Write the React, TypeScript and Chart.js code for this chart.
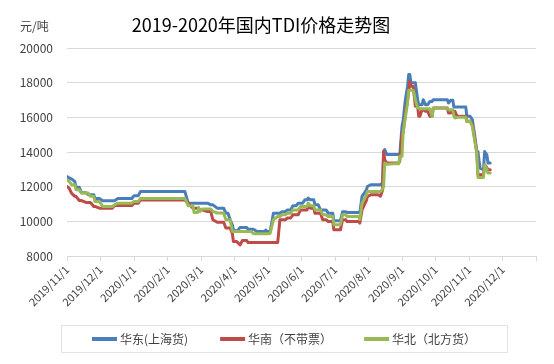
import React, { useEffect, useRef } from "react";
import { Chart, registerables } from "chart.js";

Chart.register(...registerables);

const chartTitle = "2019-2020年国内TDI价格走势图";
const unitLabel = "元/吨";

const monthTickLabels = [
  "2019/11/1", "2019/12/1", "2020/1/1", "2020/2/1", "2020/3/1", "2020/4/1", "2020/5/1",
  "2020/6/1", "2020/7/1", "2020/8/1", "2020/9/1", "2020/10/1", "2020/11/1", "2020/12/1", "",
];

const yMin = 8000;
const yMax = 20000;
const yStep = 2000;

const seriesNames = ["华东(上海货)", "华南（不带票）", "华北（北方货）"];
const seriesColors = ["#4a7ebb", "#be4b48", "#98b954"];

const dates = [
  "2019-11-01", "2019-11-03", "2019-11-05", "2019-11-08", "2019-11-09", "2019-11-12", "2019-11-14",
  "2019-11-18", "2019-11-20", "2019-11-22", "2019-11-25", "2019-11-26", "2019-11-30", "2019-12-03",
  "2019-12-12", "2019-12-14", "2019-12-17", "2019-12-30", "2020-01-01", "2020-01-05", "2020-01-07",
  "2020-02-16", "2020-02-19", "2020-02-23", "2020-02-24", "2020-02-27", "2020-02-28", "2020-02-29",
  "2020-03-02", "2020-03-07", "2020-03-10", "2020-03-12", "2020-03-16", "2020-03-22", "2020-03-24",
  "2020-03-26", "2020-03-28", "2020-03-30", "2020-03-31", "2020-04-03", "2020-04-06", "2020-04-08",
  "2020-04-12", "2020-04-13", "2020-04-16", "2020-04-18", "2020-04-21", "2020-04-28", "2020-04-29",
  "2020-04-30", "2020-05-03", "2020-05-06", "2020-05-10", "2020-05-12", "2020-05-14", "2020-05-17",
  "2020-05-19", "2020-05-22", "2020-05-24", "2020-05-27", "2020-05-29", "2020-05-31", "2020-06-02",
  "2020-06-04", "2020-06-06", "2020-06-07", "2020-06-09", "2020-06-12", "2020-06-13", "2020-06-16",
  "2020-06-18", "2020-06-20", "2020-06-23", "2020-06-25", "2020-06-29", "2020-06-30", "2020-07-06",
  "2020-07-08", "2020-07-11", "2020-07-12", "2020-07-23", "2020-07-24", "2020-07-26", "2020-07-30",
  "2020-07-31", "2020-08-03", "2020-08-10", "2020-08-12", "2020-08-14", "2020-08-15", "2020-08-16",
  "2020-08-18", "2020-08-24", "2020-08-29", "2020-08-30", "2020-09-01", "2020-09-02", "2020-09-04",
  "2020-09-06", "2020-09-07", "2020-09-08", "2020-09-09", "2020-09-11", "2020-09-13", "2020-09-15",
  "2020-09-16", "2020-09-17", "2020-09-19", "2020-09-20", "2020-09-22", "2020-09-24", "2020-09-26",
  "2020-09-28", "2020-09-29", "2020-10-12", "2020-10-13", "2020-10-15", "2020-10-17", "2020-10-18",
  "2020-10-19", "2020-10-21", "2020-10-29", "2020-10-30", "2020-11-02", "2020-11-04", "2020-11-06",
  "2020-11-08", "2020-11-09", "2020-11-10", "2020-11-11", "2020-11-14", "2020-11-15", "2020-11-17",
  "2020-11-18", "2020-11-20",
];

const eastValues = [
  12580, 12500, 12450, 12300, 11960, 11960, 11650,
  11650, 11540, 11540, 11540, 11320, 11320, 11190,
  11190, 11190, 11320, 11320, 11480, 11480, 11720,
  11720, 11050, 11050, 11050, 11050, 11050, 11050,
  11050, 11050, 10950, 10950, 10760, 10760, 10470,
  10470, 10090, 9800, 9510, 9420, 9640, 9640,
  9640, 9550, 9550, 9550, 9410, 9410, 9500,
  9410, 9410, 10470, 10470, 10470, 10560, 10560,
  10660, 10660, 10900, 10900, 11050, 11050, 11050,
  11240, 11240, 11340, 11240, 11240, 10950, 10950,
  10660, 10660, 10660, 10470, 10470, 10030, 10030,
  10560, 10560, 10510, 10510, 10510, 11440, 11800,
  12010, 12110, 12110, 12110, 12210, 14030, 14140,
  13850, 13850, 13850, 13850, 15480, 15800, 17020,
  17800, 18470, 18470, 17990, 17990, 17990, 17020,
  16730, 16730, 16730, 17020, 16730, 16730, 16920,
  16920, 17020, 17020, 16830, 16980, 16980, 16600,
  16600, 16600, 16600, 16060, 16060, 15870, 15000,
  14030, 14030, 13500, 13070, 12980, 14030, 13840,
  13360, 13360,
];

const southValues = [
  12010, 11900, 11630, 11440, 11440, 11200, 11200,
  11090, 11090, 11090, 10860, 10860, 10760, 10760,
  10760, 10910, 10910, 10910, 11050, 11050, 11230,
  11230, 11050, 10760, 10760, 10760, 10660, 10660,
  10660, 10570, 10570, 10090, 9950, 9950, 9610,
  9610, 9610, 9300, 8830, 8830, 8640, 8890,
  8890, 8780, 8780, 8780, 8780, 8780, 8780,
  8780, 8780, 8780, 8780, 10090, 10090, 10090,
  10190, 10190, 10380, 10380, 10380, 10660, 10660,
  10660, 10660, 10900, 10760, 10760, 10470, 10470,
  10470, 10090, 10090, 9990, 9990, 9510, 9510,
  10090, 10090, 9990, 9990, 9900, 10660, 11200,
  11430, 11530, 11530, 11450, 11800, 14030, 13550,
  13360, 13360, 13360, 13500, 15100, 15100, 16200,
  17020, 17500, 18080, 17800, 17800, 16640, 16640,
  16060, 16060, 16440, 16440, 16350, 16350, 16060,
  16060, 16540, 16540, 16250, 16250, 16350, 16350,
  16350, 16060, 16060, 15770, 15770, 15580, 14800,
  14000, 12690, 12690, 12690, 12690, 13270, 13100,
  12980, 12980,
];

const northValues = [
  12400, 12300, 12110, 12110, 11820, 11820, 11630,
  11630, 11630, 11440, 11440, 11150, 11150, 10860,
  10860, 10950, 11050, 11050, 11150, 11150, 11320,
  11320, 10900, 10900, 10510, 10510, 10800, 10570,
  10710, 10710, 10710, 10570, 10480, 10480, 10090,
  10090, 10090, 9410, 9410, 9410, 9410, 9410,
  9410, 9410, 9410, 9280, 9280, 9280, 9280,
  9280, 9300, 10090, 10280, 10280, 10380, 10380,
  10470, 10470, 10660, 10660, 10660, 10860, 10860,
  10860, 10860, 11050, 10900, 10900, 10660, 10660,
  10660, 10380, 10380, 10280, 10280, 9800, 9800,
  10380, 10380, 10280, 10280, 10100, 11050, 11500,
  11720, 11720, 11720, 11720, 11850, 12000, 13360,
  13300, 13320, 13320, 13750, 13750, 15100, 16000,
  16830, 17560, 17560, 17560, 17560, 17000, 16540,
  16540, 16490, 16490, 16490, 16490, 16490, 16490,
  16060, 16540, 16540, 16440, 16440, 16440, 16060,
  15960, 16000, 16000, 15770, 15770, 15480, 14700,
  13940, 12530, 12530, 12530, 12530, 13270, 13000,
  12790, 12790,
];

const seriesValues = [eastValues, southValues, northValues];

// date -> month-based position (months are equally spaced on the axis)
function dateToMonthPos(s: string): number {
  const [y, m, d] = s.split("-").map(Number);
  const dim = new Date(y, m, 0).getDate();
  return (y - 2019) * 12 + (m - 11) + (d - 1) / dim;
}

const FONT = '"Noto Sans CJK SC", "Noto Sans", sans-serif';

const decorPlugin = {
  id: "decor",
  afterDraw(chart: any) {
    const ctx = chart.ctx;
    ctx.save();
    // title
    ctx.fillStyle = "#000000";
    ctx.font = `18px ${FONT}`;
    ctx.textAlign = "center";
    ctx.textBaseline = "middle";
    ctx.fillText(chartTitle, 261, 25);
    // unit
    ctx.font = `12px ${FONT}`;
    ctx.fillStyle = "#404040";
    ctx.textAlign = "left";
    ctx.fillText(unitLabel, 20, 26);

    // legend (built from the datasets)
    const items = chart.data.datasets.map((ds: any) => ({
      text: ds.label as string,
      color: ds.borderColor as string,
      width: ds.borderWidth as number,
    }));
    const lineLen = 25;
    const textGap = 3;
    const itemGap = 32;
    const cy = 339;
    const widths = items.map((it: any) => lineLen + textGap + ctx.measureText(it.text).width);
    const total = widths.reduce((a: number, b: number) => a + b, 0) + itemGap * (items.length - 1);
    let x = Math.round(284 - total / 2);
    const start = x;
    items.forEach((it: any, i: number) => {
      ctx.strokeStyle = it.color;
      ctx.lineWidth = it.width + 1;
      ctx.lineCap = "butt";
      ctx.beginPath();
      ctx.moveTo(x, cy);
      ctx.lineTo(x + lineLen, cy);
      ctx.stroke();
      ctx.fillStyle = "#404040";
      ctx.textAlign = "left";
      ctx.textBaseline = "middle";
      ctx.fillText(it.text, x + lineLen + textGap, cy);
      x += widths[i] + itemGap;
    });
    const end = x - itemGap;
    ctx.strokeStyle = "#e3e3e3";
    ctx.lineWidth = 1;
    ctx.strokeRect(Math.round(start - 31) + 0.5, 325.5, Math.round(end - start + 62), 27);
    ctx.restore();
  },
};

export default function App() {
  const ref = useRef<HTMLCanvasElement | null>(null);

  useEffect(() => {
    if (!ref.current) return;
    const xs = dates.map(dateToMonthPos);
    const order = [3, 2, 1];
    const chart = new Chart(ref.current, {
      type: "line",
      data: {
        datasets: seriesNames.map((name, i) => ({
          label: name,
          data: xs.map((x, k) => ({ x, y: seriesValues[i][k] })),
          borderColor: seriesColors[i],
          backgroundColor: seriesColors[i],
          borderWidth: 3,
          pointRadius: 0,
          tension: 0,
          fill: false,
          borderJoinStyle: "round",
          borderCapStyle: "round",
          order: order[i],
        })),
      },
      options: {
        responsive: false,
        animation: false,
        devicePixelRatio: 1,
        layout: { padding: { top: 48, right: 18, bottom: 49, left: 0 } },
        plugins: {
          tooltip: { enabled: false },
          title: { display: false },
          legend: { display: false },
        },
        scales: {
          x: {
            type: "linear",
            min: 0,
            max: monthTickLabels.length - 1,
            afterBuildTicks: (scale: any) => {
              scale.ticks = monthTickLabels.map((_, i) => ({ value: i }));
            },
            afterFit: (scale: any) => {
              scale.height = 59;
            },
            ticks: {
              autoSkip: false,
              maxRotation: 45,
              minRotation: 45,
              padding: 2,
              color: "#404040",
              font: { size: 11, family: FONT },
              callback: (_v: any, i: number) => monthTickLabels[i],
            },
            grid: {
              display: true,
              drawOnChartArea: false,
              drawTicks: true,
              tickLength: 5,
              color: "#d9d9d9",
            },
            border: { display: true, color: "#d9d9d9" },
          },
          y: {
            min: yMin,
            max: yMax,
            afterFit: (scale: any) => {
              scale.width = 67;
            },
            ticks: {
              stepSize: yStep,
              padding: 14,
              color: "#404040",
              font: { size: 12, family: FONT },
              callback: (v: any) => String(v),
            },
            grid: { color: "#d9d9d9", drawTicks: false },
            border: { display: false },
          },
        },
      },
      plugins: [decorPlugin],
    } as any);
    return () => chart.destroy();
  }, []);

  return (
    <div style={{ position: "fixed", left: 0, top: 0, width: 554, height: 364, background: "#fff" }}>
      <canvas ref={ref} width={554} height={364} style={{ width: 554, height: 364 }} />
    </div>
  );
}
